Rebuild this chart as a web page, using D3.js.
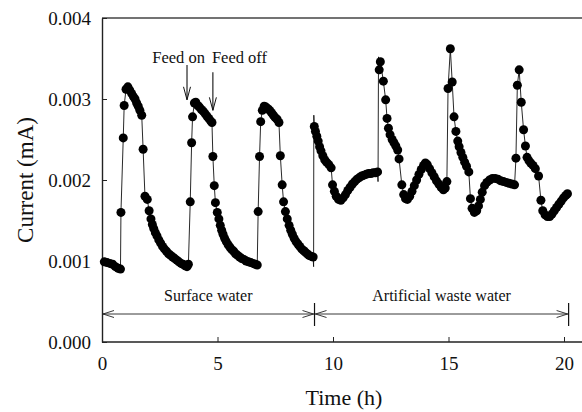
<!DOCTYPE html>
<html><head><meta charset="utf-8">
<script src="https://cdn.jsdelivr.net/npm/d3@7"></script>
<style>body{margin:0;background:#fff}svg{display:block}</style></head>
<body>
<script>
// ---- data (time in h, current in mA) ----
const times = [
 0.10,0.22,0.34,0.46,0.58,0.70,0.80,0.82,0.92,0.96,1.04,1.12,1.20,1.28,1.36,1.43,1.50,1.57,1.64,1.72,
 1.78,1.86,1.96,2.04,2.12,2.18,2.24,2.31,2.38,2.46,2.54,2.62,2.70,2.79,2.88,2.97,3.06,3.15,3.24,3.33,
 3.42,3.51,3.60,3.68,3.74,3.82,3.88,3.92,4.00,4.06,4.14,4.22,4.30,4.38,4.46,4.54,4.62,4.70,4.76,4.80,
 4.86,4.91,4.99,5.06,5.12,5.18,5.24,5.31,5.38,5.46,5.54,5.62,5.70,5.78,5.87,5.96,6.05,6.14,6.24,6.34,
 6.44,6.54,6.64,6.72,6.76,6.82,6.87,6.94,7.02,7.10,7.18,7.26,7.34,7.42,7.50,7.58,7.66,7.72,7.80,7.86,
 7.94,8.02,8.10,8.17,8.24,8.32,8.40,8.48,8.56,8.64,8.72,8.80,8.88,8.96,9.04,9.14,
 9.19,9.24,9.30,9.36,9.42,9.48,9.56,9.64,9.72,9.82,9.92,9.98,10.06,10.14,10.24,10.34,10.44,10.54,10.64,10.74,
 10.84,10.94,11.04,11.14,11.24,11.34,11.44,11.54,11.64,11.74,11.84,11.93,12.00,12.05,12.18,12.28,12.34,12.40,12.47,12.56,
 12.64,12.72,12.80,12.86,12.98,13.06,13.14,13.22,13.32,13.42,13.52,13.62,13.72,13.82,13.92,14.00,14.08,14.18,14.28,14.38,
 14.48,14.58,14.68,14.78,14.86,14.93,14.98,15.08,15.16,15.24,15.32,15.40,15.46,15.54,15.62,15.70,15.78,15.88,15.95,16.02,
 16.12,16.22,16.30,16.38,16.46,16.56,16.66,16.78,16.90,17.02,17.14,17.26,17.38,17.50,17.62,17.74,17.86,17.92,17.98,18.06,
 18.15,18.25,18.33,18.40,18.48,18.56,18.66,18.76,18.90,19.00,19.08,19.18,19.28,19.38,19.48,19.58,19.68,19.78,19.88,19.98,
 20.08,20.15
];
const currents = [
 0.00099,0.00098,0.00097,0.00096,0.00093,0.00091,0.00090,0.00160,0.00252,0.00292,0.00312,0.00315,0.00311,0.00307,0.00303,0.00300,0.00295,0.00291,0.00286,0.00280,
 0.00238,0.00180,0.00176,0.00162,0.00152,0.00145,0.00140,0.00135,0.00131,0.00126,0.00122,0.00118,0.00115,0.00112,0.00109,0.00107,0.00105,0.00103,0.00101,0.00099,
 0.00097,0.00096,0.00094,0.00093,0.00096,0.00173,0.00246,0.00278,0.00295,0.00296,0.00292,0.00290,0.00287,0.00285,0.00282,0.00279,0.00276,0.00273,0.00271,0.00229,
 0.00193,0.00172,0.00160,0.00152,0.00144,0.00138,0.00133,0.00128,0.00124,0.00120,0.00117,0.00114,0.00112,0.00109,0.00107,0.00105,0.00103,0.00102,0.00100,0.00099,
 0.00098,0.00097,0.00096,0.00095,0.00161,0.00229,0.00272,0.00286,0.00291,0.00290,0.00288,0.00286,0.00283,0.00280,0.00277,0.00275,0.00271,0.00230,0.00194,0.00173,
 0.00161,0.00152,0.00144,0.00138,0.00133,0.00128,0.00124,0.00121,0.00118,0.00115,0.00113,0.00111,0.00109,0.00107,0.00106,0.00105,
 0.00266,0.00260,0.00254,0.00248,0.00241,0.00236,0.00230,0.00225,0.00222,0.00219,0.00215,0.00194,0.00186,0.00180,0.00176,0.00175,0.00178,0.00182,0.00187,0.00191,
 0.00195,0.00198,0.00201,0.00203,0.00205,0.00206,0.00207,0.00208,0.00208,0.00209,0.00209,0.00210,0.00336,0.00346,0.00322,0.00299,0.00276,0.00264,0.00256,0.00250,
 0.00246,0.00242,0.00237,0.00226,0.00194,0.00182,0.00177,0.00176,0.00180,0.00186,0.00193,0.00200,0.00207,0.00213,0.00218,0.00221,0.00219,0.00214,0.00209,0.00204,
 0.00199,0.00195,0.00191,0.00188,0.00190,0.00198,0.00313,0.00362,0.00321,0.00278,0.00260,0.00248,0.00241,0.00234,0.00228,0.00222,0.00217,0.00210,0.00177,0.00165,
 0.00160,0.00162,0.00168,0.00176,0.00185,0.00193,0.00197,0.00200,0.00202,0.00202,0.00201,0.00199,0.00198,0.00197,0.00196,0.00195,0.00194,0.00227,0.00317,0.00336,
 0.00296,0.00262,0.00242,0.00228,0.00224,0.00221,0.00218,0.00214,0.00205,0.00175,0.00162,0.00157,0.00155,0.00155,0.00158,0.00162,0.00166,0.00170,0.00174,0.00178,
 0.00181,0.00183
];
// points of the trace that carry no marker (the thin spikes at feed changes)
const spikeTimes = [9.16, 9.17, 11.95, 11.97];
const spikeCurrents = [0.00093, 0.00280, 0.00198, 0.00352];

const xTicks = [0, 5, 10, 15, 20];
const yTicks = [0, 0.001, 0.002, 0.003, 0.004];

const phaseLabels = ["Surface water", "Artificial waste water"];
const phaseStarts = [0, 9.2];
const phaseEnds = [9.2, 20.2];

const feedLabels = ["Feed on", "Feed off"];
const feedTimes = [3.68, 4.80];
const feedTop = [0.00342, 0.00333];
const feedTip = [0.00299, 0.00286];

// ---- drawing ----
const W = 582, H = 412;
const x = d3.scaleLinear().domain([0, 20]).range([102, 564]);
const y = d3.scaleLinear().domain([0, 0.004]).range([342, 18]);
const xEnd = 582;
const serif = "'Liberation Serif','Times New Roman',serif";

const svg = d3.select("body").append("svg").attr("width", W).attr("height", H)
  .style("font-family", serif);

// frame lines
svg.append("line").attr("x1", x(0)).attr("x2", xEnd).attr("y1", y(0.004)).attr("y2", y(0.004))
  .attr("stroke", "#444").attr("stroke-width", 1.4);
svg.append("line").attr("x1", x(0)).attr("x2", xEnd).attr("y1", y(0)).attr("y2", y(0))
  .attr("stroke", "#222").attr("stroke-width", 1.4);

// y axis
const yAxis = svg.append("g").attr("transform", `translate(${x(0)},0)`)
  .call(d3.axisLeft(y).tickValues(yTicks).tickFormat(d3.format(".3f"))
    .tickSizeInner(-5).tickSizeOuter(0).tickPadding(11));
yAxis.select(".domain").attr("stroke", "#222").attr("stroke-width", 1.4);
yAxis.selectAll(".tick line").attr("stroke", "#222");
yAxis.selectAll("text").attr("font-size", 19).attr("fill", "#111").attr("font-family", serif);

// x axis
const xAxis = svg.append("g").attr("transform", `translate(0,${y(0)})`)
  .call(d3.axisBottom(x).tickValues(xTicks).tickFormat(d3.format("d"))
    .tickSizeInner(-5).tickSizeOuter(0).tickPadding(15));
xAxis.select(".domain").remove();
xAxis.selectAll(".tick line").attr("stroke", "#222");
xAxis.selectAll("text").attr("font-size", 19).attr("fill", "#111").attr("font-family", serif);

// axis titles
svg.append("text").attr("x", 344).attr("y", 405).attr("text-anchor", "middle")
  .attr("font-size", 22).attr("fill", "#111").text("Time (h)");
svg.append("text").attr("transform", `translate(33,${(y(0)+y(0.004))/2}) rotate(-90)`)
  .attr("text-anchor", "middle").attr("font-size", 23).attr("fill", "#111").text("Current (mA)");

// trace
const pts = times.map((t, i) => ({t, v: currents[i]}));
const trace = pts.concat(spikeTimes.map((t, i) => ({t, v: spikeCurrents[i]})))
  .sort((a, b) => a.t - b.t);
svg.append("path").datum(trace)
  .attr("d", d3.line().x(d => x(d.t)).y(d => y(d.v)))
  .attr("fill", "none").attr("stroke", "#111").attr("stroke-width", 0.9);
svg.append("g").selectAll("circle").data(pts).join("circle")
  .attr("cx", d => x(d.t)).attr("cy", d => y(d.v)).attr("r", 4.5).attr("fill", "#000");

// phase ranges
const arrowY = 314;
const head = (g, xp, dir) => {
  g.append("path").attr("d", `M${xp + dir * 11},${arrowY - 3.5}L${xp},${arrowY}L${xp + dir * 11},${arrowY + 3.5}`)
    .attr("fill", "none").attr("stroke", "#222").attr("stroke-width", 0.9);
};
phaseLabels.forEach((lab, i) => {
  const g = svg.append("g");
  const a = x(phaseStarts[i]), b = x(phaseEnds[i]);
  g.append("line").attr("x1", a).attr("x2", b).attr("y1", arrowY).attr("y2", arrowY)
    .attr("stroke", "#222").attr("stroke-width", 0.9);
  head(g, a + 1, 1);
  head(g, b - 1, -1);
  g.append("text").attr("x", (a + b) / 2).attr("y", 301).attr("text-anchor", "middle")
    .attr("font-size", 16).attr("fill", "#111").text(lab);
});
// separators
[phaseStarts[1], phaseEnds[1]].forEach(t => {
  svg.append("line").attr("x1", x(t)).attr("x2", x(t)).attr("y1", 303).attr("y2", 326)
    .attr("stroke", "#111").attr("stroke-width", 1.2);
});

// feed arrows
feedLabels.forEach((lab, i) => {
  const xp = x(feedTimes[i]);
  const y0 = y(feedTop[i]), y1 = y(feedTip[i]);
  svg.append("line").attr("x1", xp).attr("x2", xp).attr("y1", y0).attr("y2", y1)
    .attr("stroke", "#111").attr("stroke-width", 1.1);
  svg.append("path").attr("d", `M${xp - 3.5},${y1 - 13}L${xp},${y1}L${xp + 3.5},${y1 - 13}`)
    .attr("fill", "none").attr("stroke", "#111").attr("stroke-width", 1);
});
svg.append("text").attr("x", x(feedTimes[0]) + 18).attr("y", 63).attr("text-anchor", "end")
  .attr("font-size", 16.5).attr("fill", "#111").text(feedLabels[0]);
svg.append("text").attr("x", x(feedTimes[1]) - 1).attr("y", 63).attr("text-anchor", "start")
  .attr("font-size", 16.5).attr("fill", "#111").text(feedLabels[1]);
</script>
</body></html>
